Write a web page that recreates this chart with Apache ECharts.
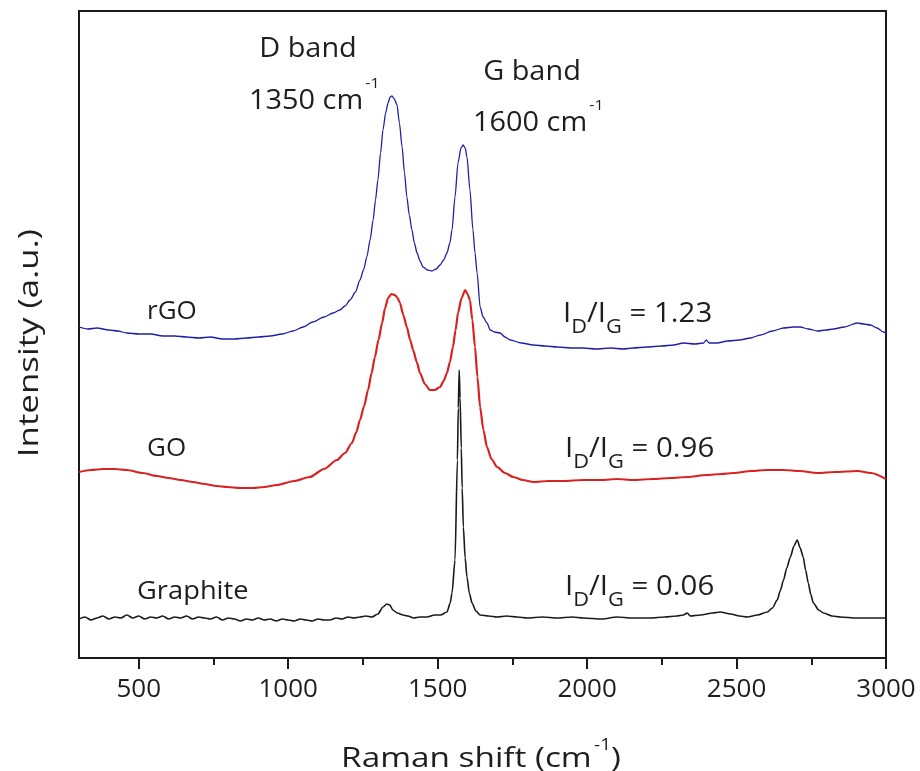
<!DOCTYPE html>
<html>
<head>
<meta charset="utf-8">
<script src="https://cdn.jsdelivr.net/npm/echarts@6/dist/echarts.min.js"></script>
<style>html,body{margin:0;padding:0;background:#fff;}#c{width:920px;height:771px;}</style>
</head>
<body>
<div id="c"></div>
<script>
// Raman shift (cm^-1) vs intensity (a.u., arbitrary offset units)
const xTicks = [500, 1000, 1500, 2000, 2500, 3000];
const xMinorTicks = [750, 1250, 1750, 2250, 2750];

const rGO = [[300,331],[330,329],[360,330],[400,328],[430,327],[460,325],[500,324],[540,324],[580,322],[620,322],[660,321],[700,320],[740,321],[780,319],[820,319],[860,320],[900,321],[940,322],[980,324],[1016,327],[1050,331],[1082,336],[1120,341],[1150,345],[1173,348],[1190,352],[1207,358],[1225,366],[1240,378],[1252,388],[1263,401],[1274,418],[1284,438],[1292,458],[1300,478],[1309,505],[1317,528],[1326,545],[1334,555],[1341,561],[1347,562],[1355,559],[1364,553],[1372,535],[1381,511],[1389,485],[1397,461],[1405,443],[1414,428],[1422,415],[1431,405],[1441,397],[1451,391],[1466,388],[1481,387],[1495,389],[1508,393],[1520,398],[1531,405],[1541,415],[1548,428],[1558,461],[1568,495],[1578,510],[1585,513],[1592,510],[1598,501],[1608,468],[1618,428],[1625,405],[1632,385],[1642,351],[1652,341],[1665,335],[1676,328],[1690,326],[1709,325],[1725,321],[1743,318],[1780,315],[1820,313],[1860,312],[1900,311],[1950,310],[1987,310],[2030,309],[2080,310],[2120,309],[2154,310],[2200,311],[2250,312],[2290,313],[2322,315],[2360,314],[2390,315],[2399,318],[2408,315],[2435,315],[2470,317],[2510,318],[2546,320],[2580,323],[2620,327],[2657,330],[2690,331],[2713,331],[2740,329],[2771,327],[2800,328],[2824,329],[2860,331],[2904,335],[2925,334],[2948,333],[2970,330],[2991,326],[3000,325]];

const GO = [[300,186],[340,188],[380,189],[420,189],[460,188],[513,185],[560,182],[600,180],[640,178],[681,176],[720,174],[760,172],[795,171],[840,170],[882,170],[920,171],[962,173],[1020,177],[1072,181],[1120,189],[1163,198],[1190,205],[1213,215],[1228,226],[1240,238],[1254,252],[1267,268],[1279,285],[1290,301],[1302,318],[1314,335],[1324,350],[1334,360],[1345,364],[1357,363],[1366,360],[1374,355],[1385,343],[1397,331],[1408,318],[1418,308],[1430,296],[1441,285],[1457,274],[1474,268],[1490,268],[1508,271],[1520,277],[1531,285],[1541,296],[1551,311],[1560,328],[1568,345],[1580,360],[1592,368],[1600,364],[1608,358],[1616,338],[1625,311],[1633,281],[1642,251],[1653,228],[1665,211],[1680,199],[1699,191],[1725,185],[1753,181],[1785,178],[1820,176],[1870,177],[1920,177],[1987,178],[2050,178],[2100,179],[2154,178],[2220,179],[2280,180],[2335,181],[2400,183],[2450,184],[2489,185],[2550,187],[2600,188],[2657,188],[2710,187],[2771,185],[2830,186],[2904,187],[2950,185],[3000,179]];

const graphite = [[300,39],[320,41],[340,38],[360,40],[380,42],[400,39],[420,41],[440,40],[460,43],[480,40],[500,42],[520,39],[540,41],[560,40],[580,42],[600,39],[620,41],[640,40],[660,42],[680,39],[700,41],[720,40],[740,39],[760,41],[780,38],[800,40],[820,39],[840,37],[860,39],[880,38],[900,40],[920,38],[940,39],[960,37],[980,39],[1000,38],[1020,37],[1040,39],[1060,38],[1080,37],[1100,39],[1120,38],[1140,38],[1160,40],[1180,39],[1200,41],[1220,40],[1240,41],[1260,42],[1280,41],[1300,44],[1317,51],[1330,54],[1340,53],[1350,48],[1365,45],[1384,43],[1400,42],[1420,40],[1440,41],[1464,41],[1490,43],[1510,43],[1531,46],[1542,55],[1548,65],[1558,98],[1566,198],[1569,250],[1572,288],[1575,260],[1579,210],[1582,170],[1586,131],[1592,100],[1598,81],[1606,65],[1615,55],[1628,47],[1642,43],[1670,42],[1699,41],[1730,42],[1766,41],[1800,40],[1850,41],[1900,40],[1950,41],[1987,40],[2050,39],[2100,41],[2150,40],[2211,40],[2260,41],[2300,42],[2322,43],[2335,45],[2345,42],[2380,43],[2420,45],[2445,46],[2480,44],[2510,42],[2536,41],[2570,43],[2603,46],[2620,50],[2636,58],[2647,68],[2657,78],[2668,90],[2680,101],[2692,112],[2703,118],[2713,110],[2723,101],[2731,88],[2740,75],[2748,64],[2757,55],[2775,48],[2791,45],[2820,42],[2848,41],[2900,40],[2958,40],[3000,40]];

const FONT = '"Open Sans", "Noto Sans", sans-serif';
const TXT = '#1e1e1e';

function plain(x, y, text, align, size, sx) {
  return { type: 'text', x: x, y: y, z: 10, scaleX: sx || 1,
    style: { text: text, fill: TXT, fontSize: size || 26, fontFamily: FONT, textAlign: align || 'left', textVerticalAlign: 'middle' } };
}
function supText(x, y, main, sup, tail, align, mainLH, size, supSize, sx) {
  return { type: 'text', x: x, y: y, z: 10, scaleX: sx || 1,
    style: { text: '{m|' + main + '}{s|' + sup + '}' + (tail ? '{m|' + tail + '}' : ''),
      textAlign: align || 'left', textVerticalAlign: 'middle',
      rich: {
        m: { fontSize: size, fontFamily: FONT, fill: TXT, lineHeight: mainLH, verticalAlign: 'bottom' },
        s: { fontSize: supSize, fontFamily: FONT, fill: TXT, lineHeight: 16, verticalAlign: 'top', padding: [0, 0, 0, 2] }
      } } };
}
function ratio(x, y, val) {
  return { type: 'text', x: x, y: y, z: 10, scaleX: 1.09,
    style: { text: '{m|I}{s|D}{m|/I}{s|G}{m| = ' + val + '}',
      textAlign: 'left', textVerticalAlign: 'middle',
      rich: {
        m: { fontSize: 27, fontFamily: FONT, fill: TXT, lineHeight: 27, verticalAlign: 'top' },
        s: { fontSize: 20, fontFamily: FONT, fill: TXT, lineHeight: 36, verticalAlign: 'bottom' }
      } } };
}

const chart = echarts.init(document.getElementById('c'));
chart.setOption({
  backgroundColor: '#fff',
  animation: false,
  grid: { left: 79, right: 34, top: 11, bottom: 113, show: true, borderColor: '#1a1a1a', borderWidth: 2, backgroundColor: 'transparent' },
  xAxis: [{
    type: 'value', min: 300, max: 3000,
    axisLine: { show: true, onZero: false, lineStyle: { color: '#1a1a1a', width: 2 } },
    axisTick: { show: true, length: 11, lineStyle: { color: '#1a1a1a', width: 2 }, customValues: xTicks },
    axisLabel: { show: true, margin: 19, color: TXT, fontSize: 26, fontFamily: FONT, customValues: xTicks,
      formatter: function (v) { return String(v); } },
    splitLine: { show: false }
  }, {
    type: 'value', min: 300, max: 3000, position: 'bottom',
    axisLine: { show: false, onZero: false },
    axisTick: { show: true, length: 7, lineStyle: { color: '#1a1a1a', width: 2 }, customValues: xMinorTicks },
    axisLabel: { show: false },
    splitLine: { show: false }
  }],
  yAxis: {
    type: 'value', min: 0, max: 647,
    axisLine: { show: false }, axisTick: { show: false }, axisLabel: { show: false }, splitLine: { show: false }
  },
  series: [
    { name: 'rGO', type: 'line', data: rGO, showSymbol: false, smooth: 0.25, smoothMonotone: 'x',
      lineStyle: { color: '#1f1fa6', width: 1.3 }, itemStyle: { color: '#1f1fa6' } },
    { name: 'GO', type: 'line', data: GO, showSymbol: false, smooth: 0.25, smoothMonotone: 'x',
      lineStyle: { color: '#d82222', width: 2.2 }, itemStyle: { color: '#d82222' } },
    { name: 'Graphite', type: 'line', data: graphite, showSymbol: false, smooth: 0.25, smoothMonotone: 'x',
      lineStyle: { color: '#1a1a1a', width: 1.6 }, itemStyle: { color: '#1a1a1a' } }
  ],
  graphic: [
    plain(308, 49, 'D band', 'center', 27, 1.07),
    supText(249, 95.5, '1350 cm', '-1', '', 'left', 39, 27, 15, 1.07),
    plain(532, 72, 'G band', 'center', 27, 1.07),
    supText(473, 117.5, '1600 cm', '-1', '', 'left', 39, 27, 15, 1.07),
    plain(147, 312, 'rGO', 'left', 26, 1),
    plain(147, 449, 'GO', 'left', 26, 1),
    plain(137, 592, 'Graphite', 'left', 26, 1.05),
    ratio(563, 319, '1.23'),
    ratio(565, 454, '0.96'),
    ratio(565, 592, '0.06'),
    supText(481, 755, 'Raman shift (cm', '-1', ')', 'center', 36, 28, 16, 1.19),
    { type: 'text', x: 30, y: 343, rotation: Math.PI / 2, z: 10, scaleX: 1.29,
      style: { text: 'Intensity (a.u.)', fill: TXT, fontSize: 27, fontFamily: FONT, textAlign: 'center', textVerticalAlign: 'middle' } }
  ]
});
</script>
</body>
</html>
